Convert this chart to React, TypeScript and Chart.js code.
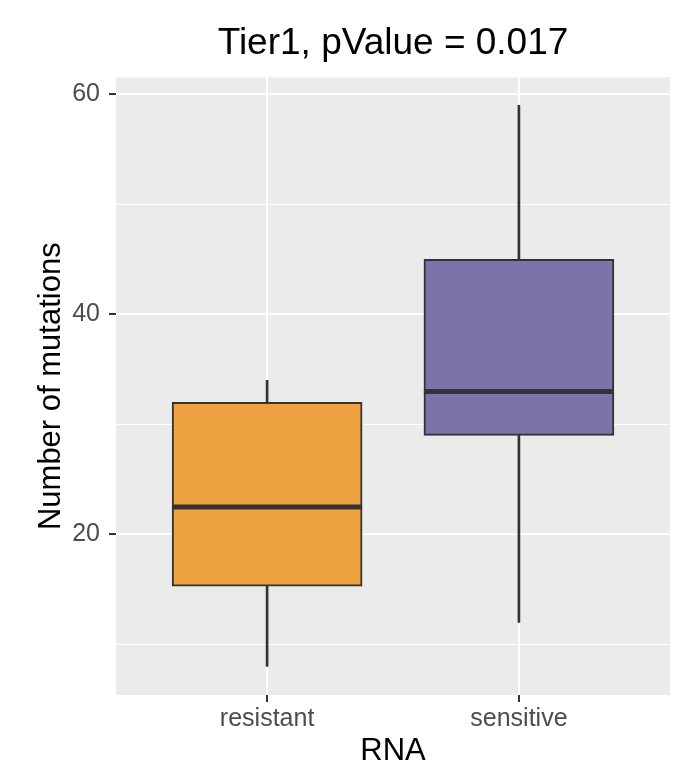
import React, { useEffect, useRef } from "react";
import { Chart, registerables } from "chart.js";

Chart.register(...registerables);

const categories = ["resistant", "sensitive"];
const categoryPositions = [1, 2];
const whiskerLow = [8, 12];
const q1 = [15.3, 29];
const medians = [22.5, 33];
const q3 = [32, 45];
const whiskerHigh = [34, 59];
const fillColors = ["#EDA13F", "#7D73AA"];
const majorTicks = [20, 40, 60];
const gridValues = [10, 20, 30, 40, 50, 60];

const TEXT = "#4D4D4D";
const DARK = "#333333";
const FONT = "Liberation Sans, Arial, sans-serif";

const panelPlugin = {
  id: "panel",
  beforeDraw(chart: any) {
    const { ctx, chartArea } = chart;
    ctx.save();
    ctx.fillStyle = "#EBEBEB";
    ctx.fillRect(chartArea.left, chartArea.top, chartArea.right - chartArea.left, chartArea.bottom - chartArea.top);
    ctx.restore();
  },
};

const medianPlugin = {
  id: "medians",
  afterDatasetsDraw(chart: any) {
    const meta = chart.getDatasetMeta(1);
    const y = chart.scales.y;
    const ctx = chart.ctx;
    ctx.save();
    ctx.strokeStyle = DARK;
    ctx.lineWidth = 5;
    meta.data.forEach((bar: any, i: number) => {
      const half = bar.width / 2;
      const py = y.getPixelForValue(medians[i]);
      ctx.beginPath();
      ctx.moveTo(bar.x - half, py);
      ctx.lineTo(bar.x + half, py);
      ctx.stroke();
    });
    ctx.restore();
  },
};

const xTickPlugin = {
  id: "xTickMarks",
  afterDraw(chart: any) {
    const x = chart.scales.x;
    const ctx = chart.ctx;
    const bottom = chart.chartArea.bottom;
    ctx.save();
    ctx.strokeStyle = DARK;
    ctx.lineWidth = 2;
    categoryPositions.forEach((v) => {
      const px = Math.round(x.getPixelForValue(v));
      ctx.beginPath();
      ctx.moveTo(px, bottom);
      ctx.lineTo(px, bottom + 7);
      ctx.stroke();
    });
    ctx.restore();
  },
};

export default function App() {
  const ref = useRef<HTMLCanvasElement>(null);
  useEffect(() => {
    if (!ref.current) return;
    const chart = new Chart(ref.current, {
      type: "bar",
      data: {
        datasets: [
          {
            label: "whiskers",
            data: categoryPositions.map((x, i) => ({ x, y: [whiskerLow[i], whiskerHigh[i]] })) as any,
            backgroundColor: DARK,
            borderWidth: 0,
            barThickness: 2,
            grouped: false,
            order: 2,
          },
          {
            label: "boxes",
            data: categoryPositions.map((x, i) => ({ x, y: [q1[i], q3[i]] })) as any,
            backgroundColor: fillColors,
            borderColor: DARK,
            borderWidth: 2,
            borderSkipped: false,
            barThickness: 190,
            grouped: false,
            order: 1,
          },
        ],
      },
      options: {
        animation: false,
        responsive: false,
        events: [],
        layout: { padding: { left: 0, right: 6, top: 0, bottom: 0 } },
        plugins: {
          legend: { display: false },
          tooltip: { enabled: false },
          title: {
            display: true,
            text: "Tier1, pValue = 0.017",
            color: "#000000",
            fullSize: false,
            font: { family: FONT, size: 37, weight: "normal" },
            padding: { top: 22, bottom: 11 },
          },
        },
        scales: {
          x: {
            type: "linear",
            min: 0.4,
            max: 2.6,
            offset: false,
            afterBuildTicks: (scale: any) => {
              scale.ticks = categoryPositions.map((v) => ({ value: v }));
            },
            afterFit: (scale: any) => {
              scale.height = 75;
            },
            border: { display: false },
            grid: {
              offset: false,
              color: "#FFFFFF",
              lineWidth: 2,
              drawTicks: true,
              tickLength: 7,
              tickColor: DARK,
              tickWidth: 2,
            },
            ticks: {
              autoSkip: false,
              maxRotation: 0,
              padding: 2,
              color: TEXT,
              font: { family: FONT, size: 25 },
              callback: (v: any) => {
                const i = categoryPositions.indexOf(Number(v));
                return i >= 0 ? categories[i] : "";
              },
            },
            title: {
              display: true,
              text: "RNA",
              color: "#000000",
              font: { family: FONT, size: 31 },
              padding: { top: 0, bottom: 0 },
            },
          },
          y: {
            type: "linear",
            min: 5.4,
            max: 61.55,
            afterBuildTicks: (scale: any) => {
              scale.ticks = gridValues.map((v) => ({ value: v }));
            },
            afterFit: (scale: any) => {
              scale.width = 116;
            },
            border: { display: false },
            grid: {
              color: "#FFFFFF",
              lineWidth: (c: any) => (majorTicks.includes(c.tick?.value) ? 2 : 1),
              drawTicks: true,
              tickLength: 7,
              tickColor: (c: any) => (majorTicks.includes(c.tick?.value) ? DARK : "rgba(0,0,0,0)"),
              tickWidth: 2,
            },
            ticks: {
              padding: 9,
              color: TEXT,
              font: { family: FONT, size: 25 },
              callback: (v: any) => (majorTicks.includes(Number(v)) ? String(v) : ""),
            },
            title: {
              display: true,
              text: "Number of mutations",
              color: "#000000",
              font: { family: FONT, size: 31 },
              padding: { top: 33, bottom: 0 },
            },
          },
        },
      },
      plugins: [panelPlugin, medianPlugin, xTickPlugin],
    });
    return () => chart.destroy();
  }, []);
  return (
    <div style={{ position: "absolute", left: 0, top: 0, width: 676, height: 770, background: "#FFFFFF" }}>
      <canvas ref={ref} width={676} height={770} style={{ display: "block" }} />
    </div>
  );
}
